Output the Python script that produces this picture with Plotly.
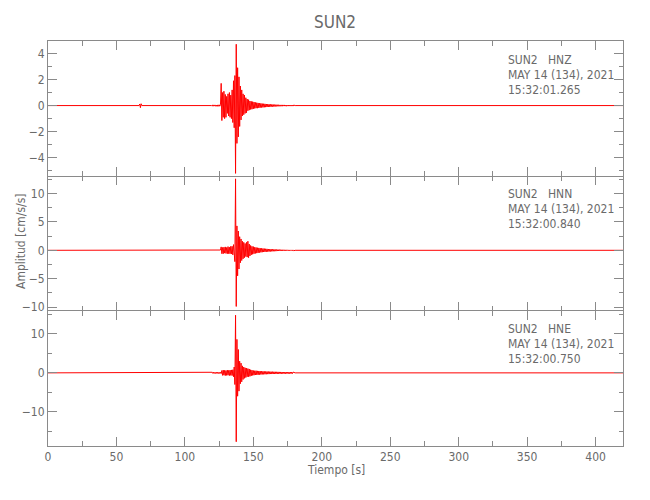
import plotly.graph_objects as go
from plotly.subplots import make_subplots

TITLE = "SUN2"
X_LABEL = "Tiempo [s]"
Y_LABEL = "Amplitud [cm/s/s]"
STATION = "SUN2"
DATE_LABEL = "MAY 14 (134), 2021"
components = ["HNZ", "HNN", "HNE"]
start_times = ["15:32:01.265", "15:32:00.840", "15:32:00.750"]

# event window sampled every EVENT_DT seconds starting at EVENT_T0
EVENT_T0 = 120.0
EVENT_DT = 0.5

hnz_pre_t = [0.0, 66.5, 67.0, 67.5, 68.0, 68.5, 119.5]
hnz_pre_a = [0.0, 0.0, 0.12, -0.16, 0.14, 0.0, 0.0]
hnz_event = [
    0.04, -0.05, 0.05, -0.04, 0.05, -0.05, 0.04, -0.06, 0.05, -0.05, 0.06, -0.05, 0.06,
    1.7, -1.15, 1.0, -0.9, 1.1, -1.0, 0.85, -0.9, 0.7, -0.6, 0.9, -0.8, 1.0, -0.9,
    0.8, -1.0, 1.2, -1.3, 1.9, -1.7, 2.3, -5.2, 4.7, -2.9, 2.9, -2.4, 2.2, -1.6,
    1.5, -1.1, 1.2, -0.8, 0.9, -0.7, 0.8, -0.6, 0.6, -0.55, 0.5, -0.4, 0.45, -0.35,
    0.35, -0.3, 0.32, -0.28, 0.3, -0.25, 0.27, -0.22, 0.24, -0.2, 0.22, -0.2, 0.2, -0.18,
    0.18, -0.16, 0.17, -0.15, 0.15, -0.14, 0.14, -0.13, 0.13, -0.12, 0.12, -0.11, 0.11, -0.1,
    0.1, -0.1, 0.09, -0.09, 0.09, -0.08, 0.08, -0.08, 0.07, -0.07, 0.07, -0.06, 0.06, -0.06,
    0.06, -0.05, 0.05, -0.05, 0.05, -0.05, 0.05, -0.04, 0.05, -0.04, 0.04, -0.05, 0.04, -0.04,
    0.04, -0.04, 0.04, -0.04, 0.04, -0.04, 0.04, -0.04, 0.04,
]
hnz_post_t = [180.5, 420.0]
hnz_post_a = [0.0, 0.0]

hnn_pre_t = [0.0, 119.5]
hnn_pre_a = [0.0, 0.0]
hnn_event = [
    0.05, -0.05, 0.06, -0.05, 0.05, -0.06, 0.05, -0.05, 0.06, -0.05, 0.05, -0.06, 0.05,
    0.6, -0.6, 0.5, -0.6, 0.55, -0.5, 0.6, -0.55, 0.5, -0.6, 0.65, -0.6, 0.55, -0.6,
    0.7, -0.65, 0.7, -0.8, 1.0, -1.2, -2.0, 12.6, -9.9, 4.3, -4.5, 3.4, -3.3, 2.4,
    -2.2, 2.0, -1.8, 1.6, -1.5, 1.4, -1.3, 1.2, -1.1, 1.4, -1.2, 1.6, -1.3, 1.1,
    -1.0, 0.85, -0.8, 0.7, -0.7, 0.65, -0.6, 0.55, -0.55, 0.5, -0.5, 0.45, -0.45, 0.42,
    -0.4, 0.38, -0.36, 0.35, -0.33, 0.32, -0.3, 0.3, -0.28, 0.27, -0.26, 0.25, -0.24, 0.23,
    -0.22, 0.21, -0.2, 0.2, -0.19, 0.18, -0.17, 0.17, -0.16, 0.15, -0.15, 0.14, -0.13, 0.13,
    -0.12, 0.12, -0.11, 0.11, -0.1, 0.1, -0.1, 0.09, -0.09, 0.09, -0.08, 0.08, -0.08, 0.08,
    -0.07, 0.07, -0.07, 0.07, -0.07, 0.07, -0.07, 0.07, -0.07,
]
hnn_post_t = [180.5, 420.0]
hnn_post_a = [0.0, 0.0]

hne_pre_t = [0.0, 119.5]
hne_pre_a = [0.0, 0.0]
hne_event = [
    0.15, -0.15, 0.18, -0.14, 0.16, -0.17, 0.15, -0.16, 0.18, -0.15, 0.16, -0.17, 0.15, -0.16,
    0.6, -0.65, 0.7, -0.6, 0.65, -0.7, 0.6, -0.65, 0.7, -0.6, 0.65, -0.7, 0.7, -0.65,
    0.75, -0.7, 0.8, -1.0, 1.5, -3.0, 14.8, -17.7, 8.6, -6.0, 6.0, -4.7, 3.0, -2.8,
    2.5, -2.3, 1.8, -1.7, 1.5, -1.4, 1.3, -1.2, 1.2, -1.0, 1.1, -1.0, 1.0, -0.9,
    0.8, -0.75, 0.7, -0.65, 0.6, -0.6, 0.55, -0.55, 0.55, -0.5, 0.5, -0.5, 0.48, -0.45,
    0.45, -0.42, 0.42, -0.4, 0.4, -0.38, 0.38, -0.36, 0.36, -0.35, 0.35, -0.33, 0.33, -0.32,
    0.32, -0.3, 0.3, -0.3, 0.3, -0.28, 0.28, -0.27, 0.27, -0.26, 0.26, -0.25, 0.25, -0.24,
    0.24, -0.23, 0.23, -0.22, 0.22, -0.22, 0.22, -0.21, 0.21, -0.21, 0.21, -0.2, 0.2, -0.2,
    0.2, -0.2, 0.2, -0.2, 0.2, -0.2, 0.2,
]
hne_post_t = [180.5, 420.0]
hne_post_a = [0.0, 0.0]

y_ranges = [[-5.4, 4.95], [-10.7, 13.1], [-18.8, 15.9]]
y_dticks = [2, 5, 10]
y_minor = [1, 2.5, 5]
X_RANGE = [0, 420]

traces = [
    (hnz_pre_t, hnz_pre_a, hnz_event, hnz_post_t, hnz_post_a),
    (hnn_pre_t, hnn_pre_a, hnn_event, hnn_post_t, hnn_post_a),
    (hne_pre_t, hne_pre_a, hne_event, hne_post_t, hne_post_a),
]

AX = "#8a8a8a"
TXT = "#6a6a6a"
FONT = "DejaVu Sans Condensed, Liberation Sans Narrow, Liberation Sans, sans-serif"

# page body adds an offset; layout numbers below are in figure pixels
OFF = 8
W, H = 650, 500
ML, MT = 48 - OFF, 41 - OFF
PW, PH = 575, 405
MR = W - ML - PW
MB = H - MT - PH


def px_x(x):
    # x given in screen pixels
    return (x - OFF - ML) / PW


def px_y(y):
    return (MT + PH - (y - OFF)) / PH


fig = make_subplots(rows=3, cols=1, shared_xaxes=True, vertical_spacing=0)

for i, (pt, pa, ev, qt, qa) in enumerate(traces):
    et = [EVENT_T0 + k * EVENT_DT for k in range(len(ev))]
    xs = list(pt) + et + list(qt)
    ys = list(pa) + list(ev) + list(qa)
    fig.add_trace(
        go.Scatter(x=xs, y=ys, mode="lines", line=dict(color="#ff0000", width=1),
                   showlegend=False, hoverinfo="skip"),
        row=i + 1, col=1,
    )
    fig.update_yaxes(
        range=y_ranges[i], dtick=y_dticks[i], tick0=0, automargin=False,
        ticks="inside", ticklen=9, tickcolor=AX, tickwidth=1,
        minor=dict(dtick=y_minor[i], ticks="inside", ticklen=4, tickcolor=AX, tickwidth=1),
        showline=True, linecolor=AX, linewidth=1, mirror="ticks",
        showgrid=False, zeroline=False,
        tickfont=dict(family=FONT, size=12, color=TXT),
        row=i + 1, col=1,
    )
    # the middle panel borrows its top/bottom frame lines from its neighbours
    fig.update_xaxes(
        range=X_RANGE, dtick=50, tick0=0, automargin=False,
        ticks="inside", ticklen=9, tickcolor=AX, tickwidth=1,
        minor=dict(dtick=25, ticks="inside", ticklen=5, tickcolor=AX, tickwidth=1),
        showline=(i != 1), linecolor=AX, linewidth=1, mirror="ticks",
        showgrid=False, zeroline=False,
        tickfont=dict(family=FONT, size=12, color=TXT),
        row=i + 1, col=1,
    )

annotations = []
panel_tops = [40.7, 175.0, 310.0]
for i, comp in enumerate(components):
    lines = [STATION + "\u00a0\u00a0\u00a0" + comp, DATE_LABEL, start_times[i]]
    for j, txt in enumerate(lines):
        annotations.append(dict(
            x=px_x(506), y=px_y(panel_tops[i] + 19 + 15 * j), xref="paper", yref="paper",
            text=txt, showarrow=False, xanchor="left", yanchor="middle",
            font=dict(family=FONT, size=12, color=TXT),
        ))

annotations.append(dict(
    x=px_x(335), y=px_y(22), xref="paper", yref="paper", text=TITLE,
    showarrow=False, xanchor="center", yanchor="middle",
    font=dict(family=FONT, size=17, color=TXT),
))
annotations.append(dict(
    x=px_x(336), y=px_y(470), xref="paper", yref="paper", text=X_LABEL,
    showarrow=False, xanchor="center", yanchor="middle",
    font=dict(family=FONT, size=12, color=TXT),
))
annotations.append(dict(
    x=px_x(21), y=px_y(241), xref="paper", yref="paper", text=Y_LABEL,
    showarrow=False, xanchor="center", yanchor="middle", textangle=-90,
    font=dict(family=FONT, size=12, color=TXT),
))

fig.update_layout(
    width=W, height=H,
    margin=dict(l=ML, r=MR, t=MT, b=MB, autoexpand=False),
    paper_bgcolor="white", plot_bgcolor="white",
    annotations=annotations,
    showlegend=False,
)

fig.write_html("out.html")
